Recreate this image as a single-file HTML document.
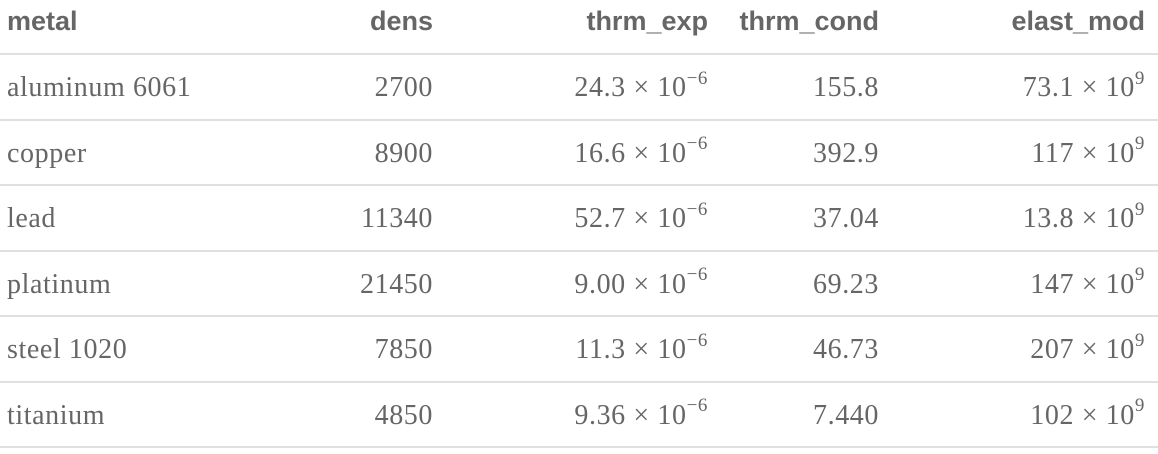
<!DOCTYPE html>
<html><head><meta charset="utf-8"><style>
body{margin:0;width:1158px;height:454px;background:#fff;overflow:hidden;position:relative;color:#666;}
.h{position:absolute;top:0;height:54px;font:bold 27px "Liberation Sans",sans-serif;line-height:42px;color:#666;white-space:nowrap}
.c{position:absolute;height:65px;font:28px "Liberation Serif",serif;line-height:66px;letter-spacing:0.6px;color:#666;white-space:nowrap}
.r{text-align:right}
.line{position:absolute;left:0;width:1158px;height:2px;background:#e0e0e0}
sup{font-size:19px;position:relative;top:-2px;vertical-align:super;line-height:0}
</style></head><body>
<div class="h" style="left:7px">metal</div>
<div class="h r" style="right:725px">dens</div>
<div class="h r" style="right:450px">thrm_exp</div>
<div class="h r" style="right:279px">thrm_cond</div>
<div class="h r" style="right:13px">elast_mod</div>
<div class="line" style="top:53px"></div>
<script>
const metals=["aluminum 6061","copper","lead","platinum","steel 1020","titanium"];
const dens=["2700","8900","11340","21450","7850","4850"];
const exp=["24.3","16.6","52.7","9.00","11.3","9.36"];
const cond=["155.8","392.9","37.04","69.23","46.73","7.440"];
const mod=["73.1","117","13.8","147","207","102"];
for(let i=0;i<metals.length;i++){
  const top=55+i*65.5;
  const cells=[[metals[i],null],[dens[i],725],[exp[i]+" × 10<sup>−6</sup>",450],[cond[i],279],[mod[i]+" × 10<sup>9</sup>",13]];
  cells.forEach((c,j)=>{
    const d=document.createElement('div');
    d.className='c'+(c[1]!==null?' r':'');
    d.style.top=top+'px';
    if(c[1]===null)d.style.left='7px';else d.style.right=c[1]+'px';
    d.innerHTML=c[0];
    
    
    document.body.appendChild(d);
  });
  const l=document.createElement('div');
  l.className='line';l.style.top=(top+63.5)+'px';
  
  
  document.body.appendChild(l);
}
</script>
</body></html>
